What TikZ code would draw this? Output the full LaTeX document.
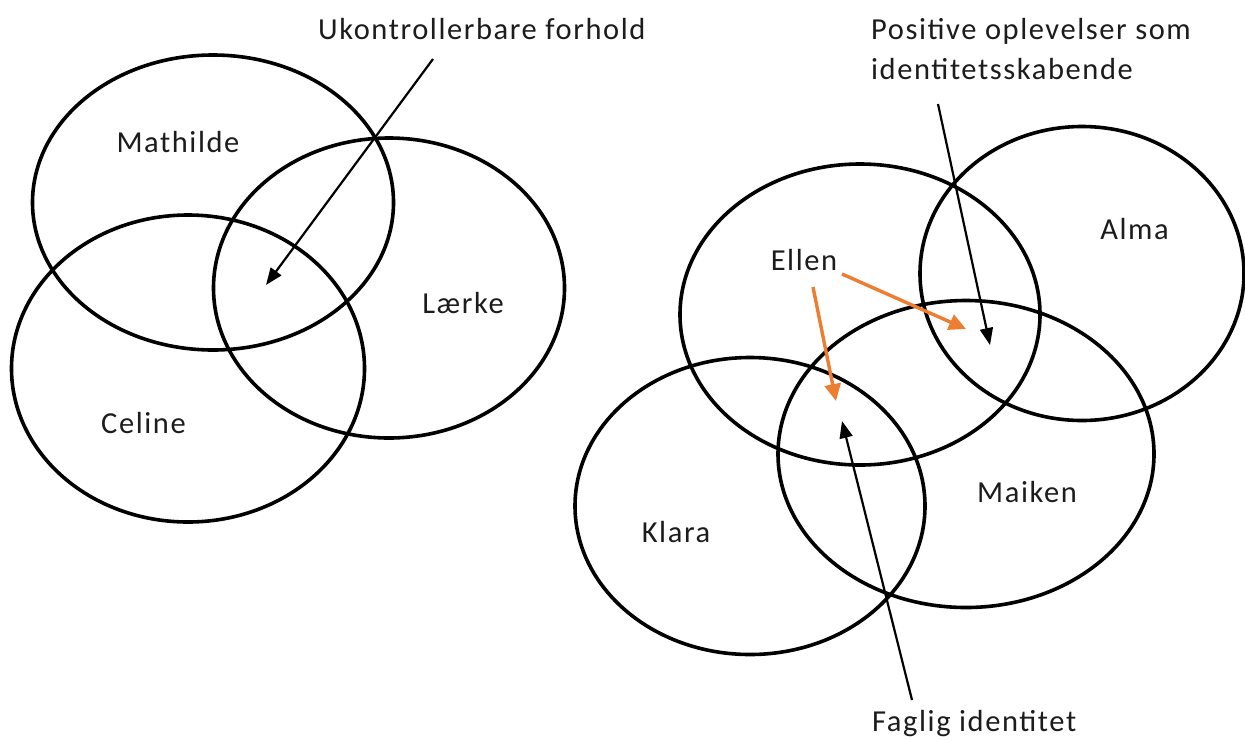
\documentclass[tikz,border=0pt]{standalone}
\usepackage{fontspec}
\setmainfont{Carlito}[LetterSpace=5.2]
\usetikzlibrary{shapes.geometric,arrows.meta}
\definecolor{arrorange}{HTML}{ED7D31}
\definecolor{txt}{HTML}{1C1C1C}
\begin{document}
\begin{tikzpicture}[x=1pt,y=-1pt,
  ring/.style={draw=black,line width=3.6pt,ellipse,inner sep=0pt,fill=none},
  lbl/.style={text=txt,font=\fontsize{30.5}{40}\selectfont,inner sep=0pt},
  blackarrow/.style={draw=black,line width=2.2pt,-{Triangle[length=17pt,width=13pt]}},
  orangearrow/.style={draw=arrorange,line width=3.4pt,-{Triangle[length=17pt,width=16pt]}}]
\useasboundingbox[fill=white] (0,0) rectangle (1245,740);
% left group
\node[ring,minimum width=361pt,minimum height=295pt] (mathilde) at (213,202.5) {};
\node[ring,minimum width=351pt,minimum height=300pt] (laerke) at (389,288) {};
\node[ring,minimum width=353pt,minimum height=307pt] (celine) at (188,368.5) {};
\node[lbl] (tmathilde) at (178,142) {Mathilde};
\node[lbl] (tlaerke) at (463,303) {Lærke};
\node[lbl] (tceline) at (143.5,423) {Celine};
% right group
\node[ring,minimum width=360pt,minimum height=301pt] (ellen) at (860,314.5) {};
\node[ring,minimum width=324pt,minimum height=294pt] (alma) at (1082,273.5) {};
\node[ring,minimum width=376pt,minimum height=307pt] (maiken) at (966,454) {};
\node[ring,minimum width=350pt,minimum height=297pt] (klara) at (750,506) {};
\node[lbl] (tellen) at (804,260) {Ellen};
\node[lbl] (talma) at (1134.5,229) {Alma};
\node[lbl] (tmaiken) at (1027,492.5) {Maiken};
\node[lbl] (tklara) at (676,532) {Klara};
% captions
\node[lbl,anchor=base west] (tukon) at (318,39) {Ukontrollerbare forhold};
\node[lbl,anchor=base west] (tpos1) at (871,39) {Positive oplevelser som};
\node[lbl,anchor=base west] (tpos2) at (871,79) {identitetsskabende};
\node[lbl,anchor=base west] (tfag) at (872,731) {Faglig identitet};
% arrow end points
\coordinate (a1s) at (433,59);
\coordinate (a1e) at (266,285);
\coordinate (a2s) at (938,104);
\coordinate (a2e) at (990,345);
\coordinate (a3s) at (912,700);
\coordinate (a3e) at (842,421);
\coordinate (o1s) at (842,274);
\coordinate (o1e) at (966,329);
\coordinate (o2s) at (813,287);
\coordinate (o2e) at (836,401);
\draw[blackarrow] (a1s) -- (a1e);
\draw[blackarrow] (a2s) -- (a2e);
\draw[blackarrow] (a3s) -- (a3e);
\draw[orangearrow] (o1s) -- (o1e);
\draw[orangearrow] (o2s) -- (o2e);
\end{tikzpicture}
\end{document}
